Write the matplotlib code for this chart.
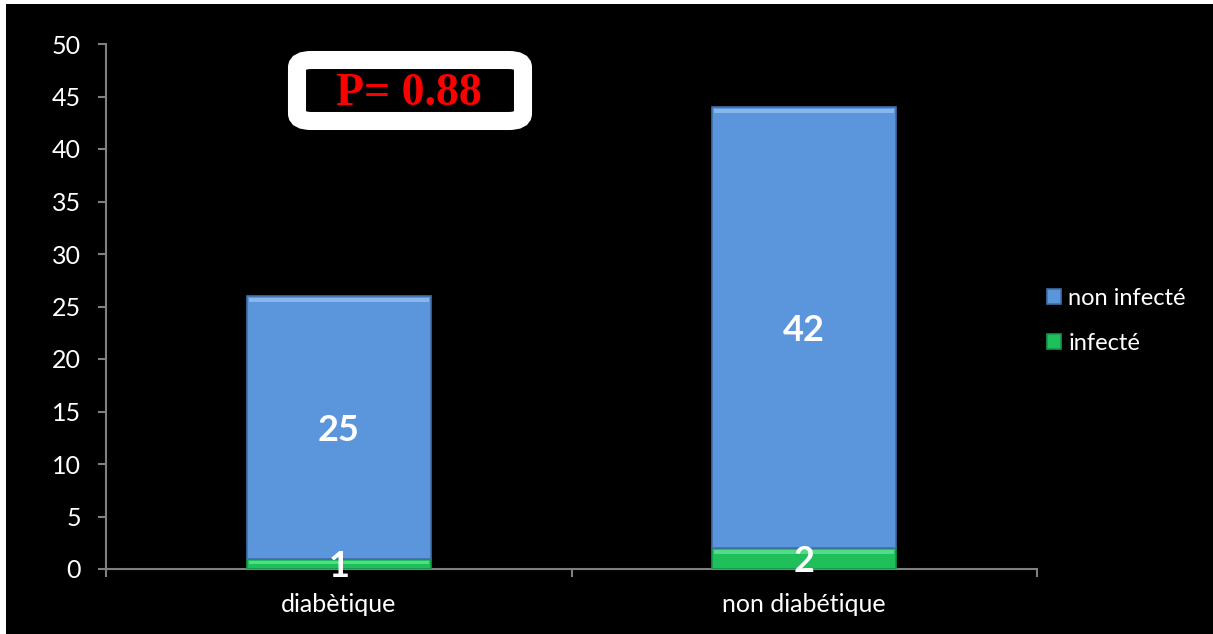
import matplotlib.pyplot as plt
from matplotlib.patches import Rectangle, FancyBboxPatch

categories = ["diabètique", "non diabétique"]
infecte = [1, 2]
non_infecte = [25, 42]
p_text = "P= 0.88"

fig = plt.figure(figsize=(12.13, 6.34), dpi=100)
fig.patch.set_facecolor("white")
# fond noir (bande blanche en haut et a gauche)
fig.patches.append(Rectangle((6 / 1213, 0), 1, 630 / 634, transform=fig.transFigure,
                             facecolor="black", edgecolor="none", zorder=-5))

ax = fig.add_axes([106 / 1213, 65 / 634, 931 / 1213, 525 / 634])
ax.set_facecolor("black")

x = range(len(categories))
w = 0.395
b1 = ax.bar(x, infecte, w, color="#1FBF5B", edgecolor="#14964A", linewidth=1.2,
            label="infecté", zorder=3)
b2 = ax.bar(x, non_infecte, w, bottom=infecte, color="#5B96DC", edgecolor="#3F6FA8",
            linewidth=1.2, label="non infecté", zorder=3)

# petit effet de biseau en haut de chaque segment
for bars, light in ((b1, "#6BE89A"), (b2, "#9CC6F2")):
    for r in bars:
        ax.add_patch(Rectangle((r.get_x() + 0.004, r.get_y() + r.get_height() - 0.55),
                               r.get_width() - 0.008, 0.35, facecolor=light,
                               edgecolor="none", alpha=0.7, zorder=4))

for i in x:
    ax.text(i, infecte[i] / 2, str(infecte[i]), ha="center", va="center_baseline",
            color="white", fontsize=26, fontweight="bold", family="Lato", zorder=5)
    ax.text(i, infecte[i] + non_infecte[i] / 2, str(non_infecte[i]), ha="center",
            va="center_baseline", color="white", fontsize=26, fontweight="bold",
            family="Lato", zorder=5)

ax.set_xlim(-0.5, 1.5)
ax.set_ylim(0, 50)
ax.set_yticks(range(0, 51, 5))
ax.set_xticks([-0.5, 0.5, 1.5])
ax.set_xticklabels([])
ax.set_xticks(list(x), minor=True)
ax.set_xticklabels(categories, minor=True)
ax.tick_params(axis="x", which="minor", length=0, pad=17)
ax.tick_params(axis="both", which="major", colors="#808080", length=6, width=1.5)
ax.tick_params(axis="both", which="both", labelcolor="white", labelsize=18)
for lab in ax.get_xticklabels(minor=True) + ax.get_yticklabels():
    lab.set_family("Lato")
ax.tick_params(axis="y", pad=12)
for s in ["top", "right"]:
    ax.spines[s].set_visible(False)
for s in ["left", "bottom"]:
    ax.spines[s].set_color("#808080")
    ax.spines[s].set_linewidth(1.5)

# encadre P
fig.patches.append(FancyBboxPatch((297 / 1213, 513 / 634), 226 / 1213, 61 / 634,
                                  boxstyle="round,pad=0.0,rounding_size=0.012",
                                  transform=fig.transFigure, facecolor="black",
                                  edgecolor="white", linewidth=13, zorder=5))
fig.text(409 / 1213, 540 / 634, p_text, ha="center", va="center", color="#FF0000",
         fontsize=33, fontweight="bold", family="Liberation Serif", zorder=6)

h, l = ax.get_legend_handles_labels()
leg = fig.legend(h[::-1], l[::-1], loc="center left", bbox_to_anchor=(1026 / 1213, 313 / 634),
                 frameon=False, handlelength=0.6, handleheight=0.6, handletextpad=0.3,
                 labelspacing=1.0, prop={"family": "Lato", "size": 17})
for t in leg.get_texts():
    t.set_color("white")

fig.savefig("out.png", dpi=100, facecolor=fig.get_facecolor())
